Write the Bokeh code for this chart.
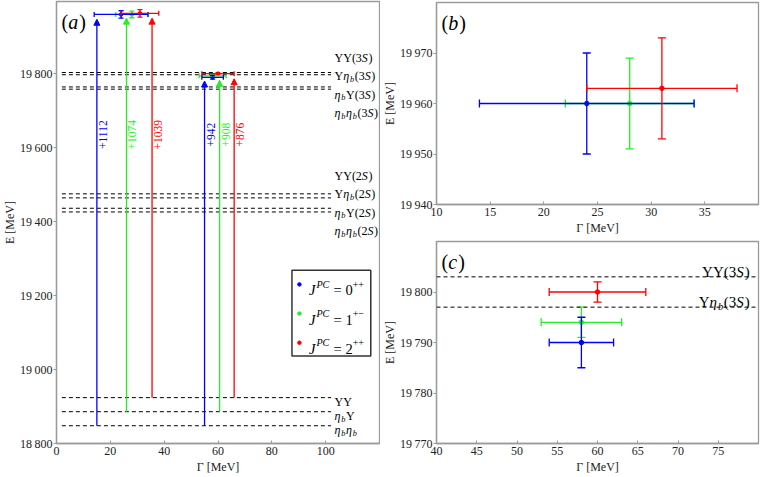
import numpy as np
from bokeh.plotting import figure
from bokeh.layouts import row, column
from bokeh.models import (ColumnDataSource, Whisker, TeeHead, Arrow, NormalHead,
                          Label, FixedTicker, Span)
from bokeh.embed import file_html
from bokeh.resources import INLINE

FONT = "Liberation Serif"
GRAY = "#9a9a9a"
NB = "\u00a0"
COLORS = ["#0000ff", "#22f022", "#ff0000"]          # J^PC = 0++, 1+-, 2++
DRAW_ORDER = [1, 0, 2]
LEG_SUP = ["++", "+\u2212", "++"]
LEG_J = ["0", "1", "2"]

# ---------------- data ----------------
# upper states (panel b)
g1_gamma = [24, 28, 31]
g1_gamma_lo = [14, 22, 24]
g1_gamma_hi = [34, 34, 38]
g1_E = [19960, 19960, 19963]
g1_E_lo = [19950, 19951, 19953]
g1_E_hi = [19970, 19969, 19973]

# lower states (panel c)
g2_gamma = [58, 58, 60]
g2_gamma_lo = [54, 53, 54]
g2_gamma_hi = [62, 63, 66]
g2_E = [19790, 19794, 19800]
g2_E_lo = [19785, 19791, 19798]
g2_E_hi = [19795, 19797, 19802]

# thresholds
thr1S_E = [18924, 18886, 18848]           # YY, eta_b Y, eta_b eta_b
thr2S_E = [19475, 19464, 19436, 19426]
thr3S_E = [19803, 19797, 19764, 19758]

# arrows (start at threshold, per J^PC)
arrow_from = [18848, 18886, 18924]
g1_arrow_x = [15, 26, 35.5]
g1_arrow_to = [19947, 19950, 19950]
g1_binding = ["+1112", "+1074", "+1039"]
g2_arrow_x = [55, 60.6, 66]
g2_arrow_to = [19780, 19782, 19786]
g2_binding = ["+942", "+908", "+876"]

# axes
A_X = (0, 120); A_Y = (18800, 19995)
B_X = (10, 40); B_Y = (19940, 19980)
C_X = (40, 80); C_Y = (19770, 19810)
a_xticks = [0, 20, 40, 60, 80, 100]
a_yticks = [18800, 19000, 19200, 19400, 19600, 19800]
b_xticks = [10, 15, 20, 25, 30, 35]
b_yticks = [19940, 19950, 19960, 19970]
c_xticks = [40, 45, 50, 55, 60, 65, 70, 75]
c_yticks = [19770, 19780, 19790, 19800]

# ---------------- rich text helper ----------------
REG = {"\u03a5": .722, "(": .333, ")": .333, " ": .25, NB: .25, "=": .564, "+": .564,
       "\u2212": .564, "S": .556}
ITA = {"\u03b7": .5, "b": .5, "S": .5, "J": .444, "P": .611, "C": .667,
       "a": .5, "c": .444}


def text_w(t, italic, size):
    tab = ITA if italic else REG
    return sum(tab.get(ch, .5) for ch in t) * size + (0.06 * size if italic else 0)


def rich(p, x, y, segs, size, color="black", align="left", vshift=None, dx=0.0):
    if vshift is None:
        vshift = -0.33 * size
    items = []
    off = 0.0
    for t, it, pos in segs:
        s = size if pos == "n" else size * 0.7
        dy = 0.0 if pos == "n" else (-0.28 * size if pos == "sub" else 0.40 * size)
        items.append((t, it, s, off, dy))
        off += text_w(t, it, s)
    start = {"left": 0.0, "right": -off, "center": -off / 2}[align] + dx
    for t, it, s, o, dy in items:
        p.add_layout(Label(x=x, y=y, x_offset=start + o, y_offset=vshift + dy,
                           text=t.replace(" ", NB),
                           text_font=FONT, text_font_size=f"{s:.1f}px",
                           text_font_style="italic" if it else "normal",
                           text_color=color, text_align="left",
                           text_baseline="alphabetic"))


def eta_b():
    return [("\u03b7", True, "n"), ("b", True, "sub")]


def tail(n):
    return [("(" + n, False, "n"), ("S", True, "n"), (")", False, "n")]


def lab_YY(n=None):
    return [("\u03a5\u03a5", False, "n")] + (tail(n) if n else [])


def lab_Yeta(n):
    return [("\u03a5", False, "n")] + eta_b() + tail(n)


def lab_etaY(n=None):
    return eta_b() + [("\u03a5", False, "n")] + (tail(n) if n else [])


def lab_etaeta(n=None):
    return eta_b() + eta_b() + (tail(n) if n else [])


# ---------------- figure helpers ----------------
def make_fig(w, h, xr, yr, xt, yt, mb):
    p = figure(width=w, height=h, x_range=xr, y_range=yr, output_backend="svg",
               toolbar_location=None, min_border_left=mb[0], min_border_right=mb[1],
               min_border_top=mb[2], min_border_bottom=mb[3],
               x_axis_label="\u0393 [MeV]", y_axis_label="E [MeV]")
    p.xaxis.ticker = FixedTicker(ticks=xt)
    p.yaxis.ticker = FixedTicker(ticks=yt)
    p.yaxis.major_label_overrides = {v: f"{v // 1000}\u2009{v % 1000:03d}" for v in yt}
    for ax in p.axis:
        ax.axis_line_color = GRAY
        ax.axis_line_width = 1.3
        ax.major_tick_line_color = GRAY
        ax.minor_tick_line_color = None
        ax.major_label_text_font = FONT
        ax.major_label_text_font_size = "12px"
        ax.major_label_text_color = "#222222"
        ax.axis_label_text_font = FONT
        ax.axis_label_text_font_size = "12px"
        ax.axis_label_text_font_style = "normal"
        ax.axis_label_text_color = "#222222"
        ax.axis_label_standoff = 0
        ax.major_label_standoff = 1
    p.xaxis.major_tick_in = 3
    p.xaxis.major_tick_out = 0
    p.xaxis.major_label_standoff = 3
    p.xaxis.axis_label_standoff = 2
    p.yaxis.major_tick_in = 0
    p.yaxis.major_tick_out = 3
    p.xgrid.visible = False
    p.ygrid.visible = False
    p.outline_line_color = GRAY
    p.outline_line_width = 1.3
    p.background_fill_color = "white"
    p.border_fill_color = "white"
    return p


def errbars(p, gx, glo, ghi, ey, elo, ehi, cap, ms):
    for i in DRAW_ORDER:
        c = COLORS[i]
        src = ColumnDataSource(dict(x=[gx[i]], y=[ey[i]], xlo=[glo[i]], xhi=[ghi[i]],
                                    ylo=[elo[i]], yhi=[ehi[i]]))
        for dim, base, lo, hi in (("width", "y", "xlo", "xhi"), ("height", "x", "ylo", "yhi")):
            p.add_layout(Whisker(source=src, base=base, lower=lo, upper=hi, dimension=dim,
                                 line_color=c, line_width=1.3, level="glyph",
                                 upper_head=TeeHead(size=cap, line_color=c, line_width=1.3),
                                 lower_head=TeeHead(size=cap, line_color=c, line_width=1.3)))
        p.scatter(x="x", y="y", source=src, size=ms, color=c, level="glyph")


def panel_tag(p, xr, yr, letter):
    rich(p, xr[0], yr[1], [("(", False, "n"), (letter, True, "n"), (")", False, "n")],
         20, align="left", vshift=-20, dx=5)


# ---------------- panel (a) ----------------
pa = make_fig(380, 476, A_X, A_Y, a_xticks, a_yticks, (53, 1, 1, 33))

line_x0, line_x1 = 2, 102
all_thr = thr1S_E + thr2S_E + thr3S_E
pa.segment(x0=[line_x0] * len(all_thr), x1=[line_x1] * len(all_thr), y0=all_thr, y1=all_thr,
           line_color="black", line_width=1, line_dash="4 3")

lab_x = 103.3
labels_1S = [lab_YY(), lab_etaY(), lab_etaeta()]
for E, segs in zip(thr1S_E, labels_1S):
    rich(pa, lab_x, E, segs, 12)
labels_2S_y = [19534, 19484, 19435, 19385]
labels_3S_y = [19853, 19803, 19754, 19705]
for n, ys in (("2", labels_2S_y), ("3", labels_3S_y)):
    for yy, segs in zip(ys, [lab_YY(n), lab_Yeta(n), lab_etaY(n), lab_etaeta(n)]):
        rich(pa, lab_x, yy, segs, 12)

binding_y = 19635
for xs, tos, labs in ((g1_arrow_x, g1_arrow_to, g1_binding), (g2_arrow_x, g2_arrow_to, g2_binding)):
    for i, c in enumerate(COLORS):
        pa.add_layout(Arrow(x_start=xs[i], y_start=arrow_from[i], x_end=xs[i], y_end=tos[i],
                            line_color=c, line_width=1.3,
                            end=NormalHead(size=6, line_color=c, fill_color=c, line_width=1)))
        pa.add_layout(Label(x=xs[i], y=binding_y, text=labs[i], angle=np.pi / 2,
                            text_align="center", text_baseline="top", x_offset=2,
                            text_font=FONT, text_font_size="11.5px", text_color=c))

errbars(pa, g1_gamma, g1_gamma_lo, g1_gamma_hi, g1_E, g1_E_lo, g1_E_hi, 5, 3.5)
errbars(pa, g2_gamma, g2_gamma_lo, g2_gamma_hi, g2_E, g2_E_lo, g2_E_hi, 5, 3.5)


# legend box (layout fractions of the frame)
def fx(f):
    return A_X[0] + f * (A_X[1] - A_X[0])


def fy(f):
    return A_Y[0] + f * (A_Y[1] - A_Y[0])


pa.quad(left=[fx(0.729)], right=[fx(0.973)], bottom=[fy(0.198)], top=[fy(0.392)],
        fill_color="white", line_color="#333333", line_width=1.5)
leg_y = [fy(0.360), fy(0.294), fy(0.228)]
pa.scatter(x=[fx(0.752)] * 3, y=leg_y, size=3.5, color=COLORS)
for i in range(3):
    segs = [("J", True, "n"), ("PC", True, "sup"), (" = " + LEG_J[i], False, "n"),
            (LEG_SUP[i], False, "sup")]
    rich(pa, fx(0.782), leg_y[i], segs, 14.5, vshift=-6)

panel_tag(pa, A_X, A_Y, "a")

# ---------------- panel (b) ----------------
pb = make_fig(381, 237, B_X, B_Y, b_xticks, b_yticks, (53, 3, 2, 33))
errbars(pb, g1_gamma, g1_gamma_lo, g1_gamma_hi, g1_E, g1_E_lo, g1_E_hi, 8, 4.5)
panel_tag(pb, B_X, B_Y, "b")

# ---------------- panel (c) ----------------
pc = make_fig(381, 239, C_X, C_Y, c_xticks, c_yticks, (53, 3, 4, 33))
for E in thr3S_E:
    if C_Y[0] < E < C_Y[1]:
        pc.add_layout(Span(location=E, dimension="width", line_color="black",
                           line_width=1, line_dash="4 3"))
rich(pc, 78.9, thr3S_E[0], lab_YY("3"), 15, align="right", vshift=5)
rich(pc, 78.9, thr3S_E[1], lab_Yeta("3"), 15, align="right", vshift=5)
errbars(pc, g2_gamma, g2_gamma_lo, g2_gamma_hi, g2_E, g2_E_lo, g2_E_hi, 8, 4.5)
panel_tag(pc, C_X, C_Y, "c")

layout = row(pa, column(pb, pc))
open("out.html", "w").write(file_html(layout, INLINE))
